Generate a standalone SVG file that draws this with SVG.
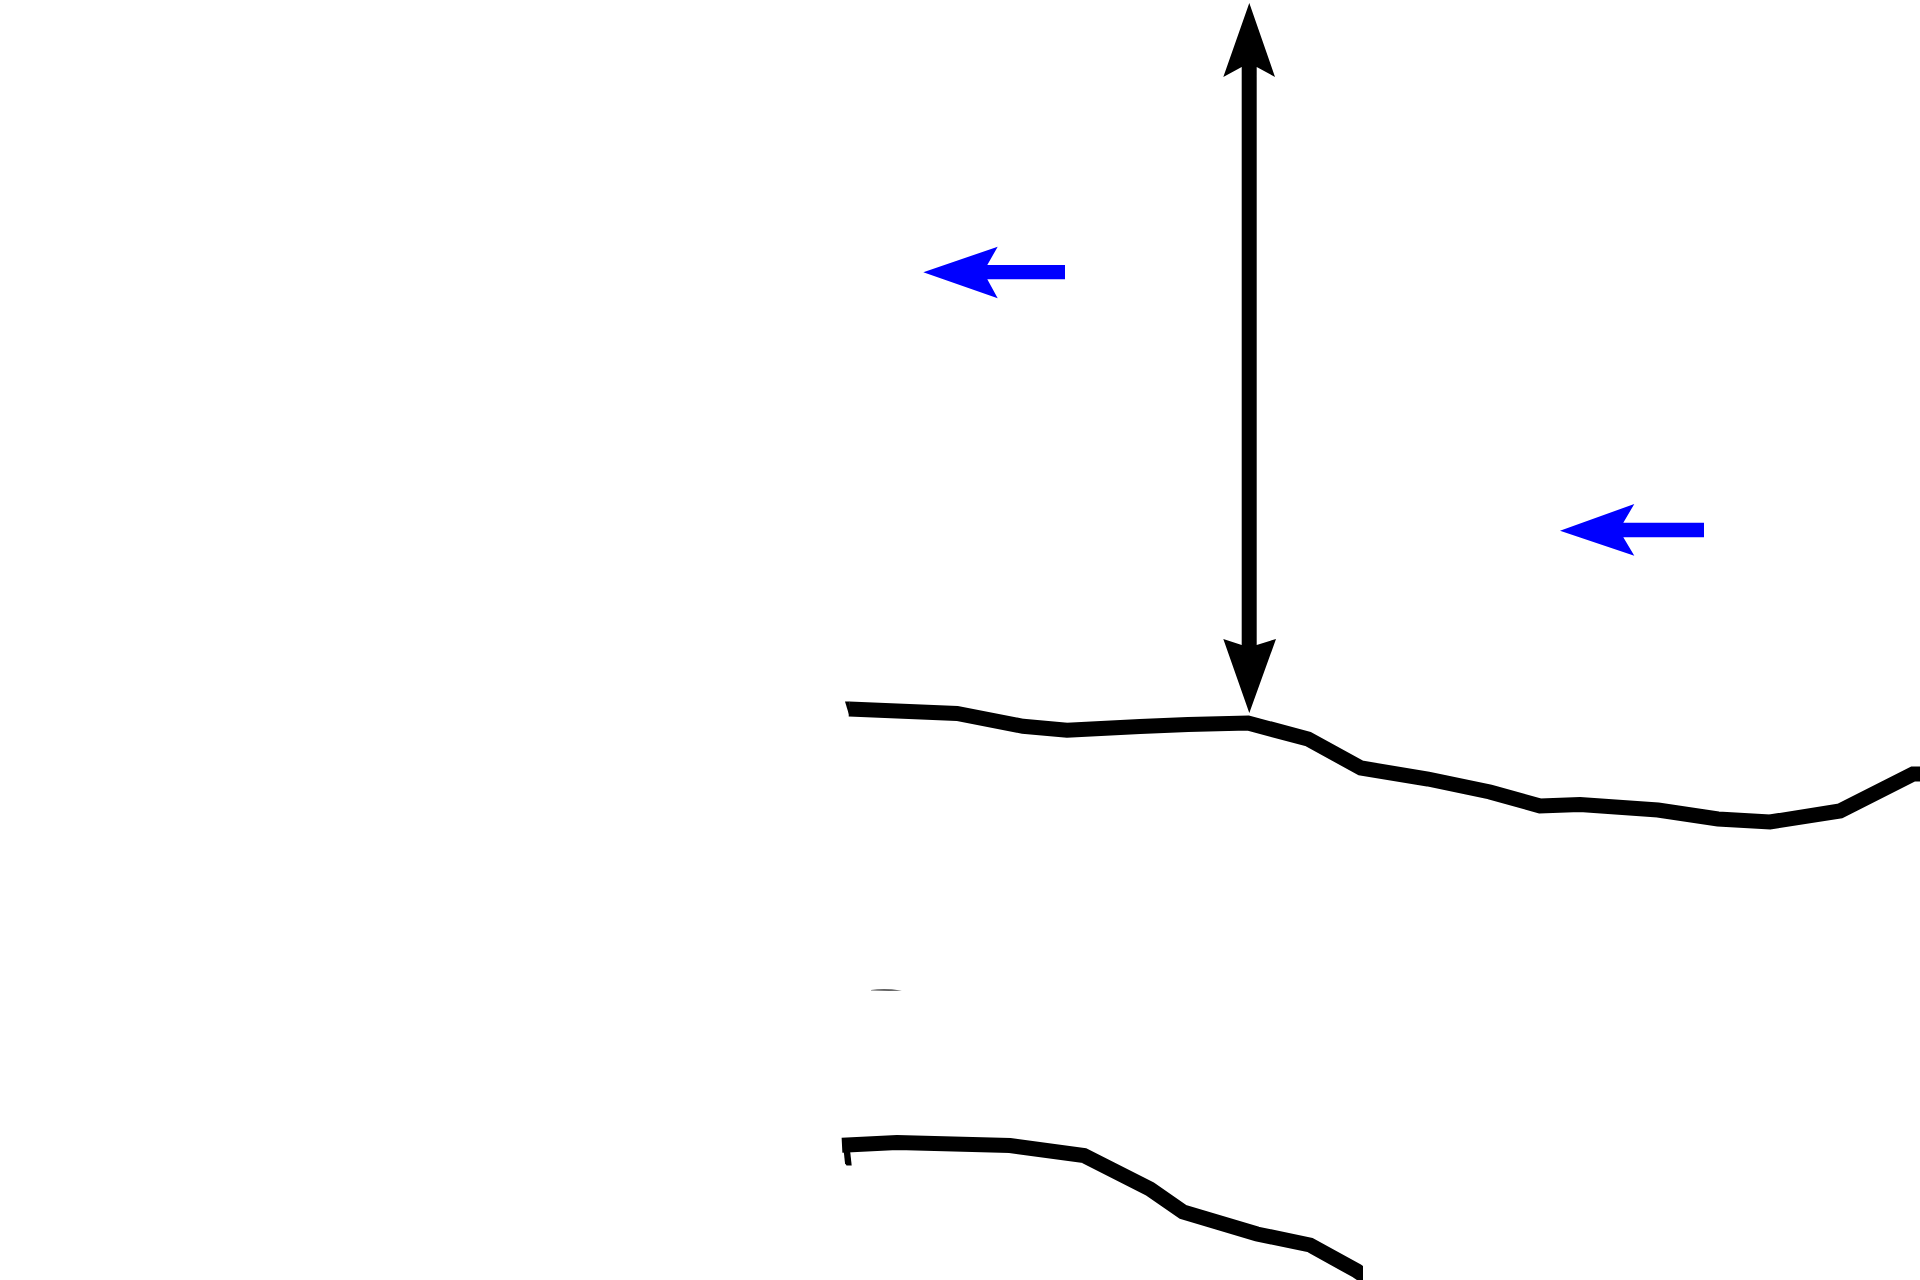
<svg xmlns="http://www.w3.org/2000/svg" width="1920" height="1280" viewBox="0 0 1920 1280">
  <style>
    .edge { fill: none; stroke: #000000; stroke-width: 15; stroke-linejoin: miter; stroke-miterlimit: 10; stroke-linecap: butt; }
    .ink { fill: #000000; stroke: none; }
    .blue { fill: #0000ff; stroke: none; }
  </style>
  <defs>
    <clipPath id="clipBottom">
      <rect x="0" y="0" width="1363" height="1280"/>
    </clipPath>
  </defs>
  <rect x="0" y="0" width="1920" height="1280" fill="#ffffff"/>

  <g id="boundary-top">
    <polyline class="edge" points="849,709 957,713.5 1023,726.3 1067,730.2 1140,726.5 1188,724.5 1248,723 1308,739 1361,768 1428,779 1490,792 1540,806 1580,804.5 1658,810 1718,819 1770,822 1840,811 1913,774 1925,774"/>
    <polygon class="ink" points="845,701.5 849.5,701.6 849.5,716.5"/>
  </g>

  <g id="boundary-bottom">
    <g clip-path="url(#clipBottom)">
      <polyline class="edge" points="842,1145.3 897,1142.5 1010,1145.5 1084,1155.5 1150,1189 1183,1212 1257,1234 1310,1245 1357,1271 1385,1290"/>
    </g>
    <polygon class="ink" points="842.3,1138 845,1163.3 846.5,1165.5 851.7,1165.5 850,1150"/>
  </g>

  <g id="mark">
    <path d="M871,990 Q880,988.3 892,989.2 L902,990.8 Q885,991.2 871,990.6 Z" fill="#3a3a3a" opacity="0.8"/>
  </g>

  <g id="connectors">
    <path id="arrow-vertical" class="ink" d="M1249.3,3 L1275,77 L1256.7,67 L1256.7,645 L1276,639 L1249.3,713 L1223.3,639 L1241.7,645 L1241.7,67 L1223.3,77 Z"/>
    <path id="arrow-blue-1" class="blue" d="M923.3,272.3 L997.7,246.7 L987.3,265 L1065,265 L1065,279.3 L987.3,279.3 L997.7,298.3 Z"/>
    <path id="arrow-blue-2" class="blue" d="M1560,530.7 L1634.3,504 L1623.3,522.7 L1704,522.7 L1704,537.3 L1623.3,537.3 L1634.3,555.7 Z"/>
  </g>
</svg>
